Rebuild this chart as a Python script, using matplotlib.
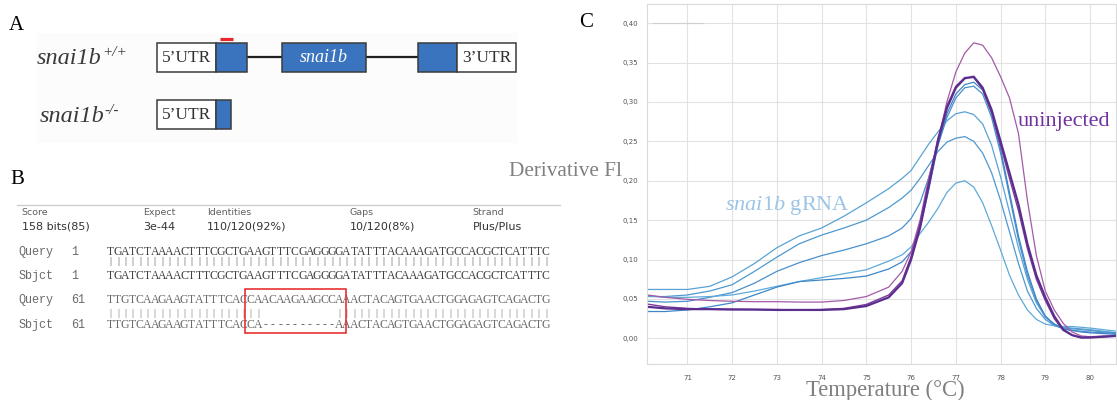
import numpy as np
import matplotlib.pyplot as plt
from matplotlib.patches import Rectangle

plt.rcParams['mathtext.fontset'] = 'custom'
plt.rcParams['mathtext.rm'] = 'Liberation Serif'
plt.rcParams['mathtext.it'] = 'Liberation Serif:italic'
SERIF = 'Liberation Serif'

#%% Data - panel A (gene schematic, segment spans)
gene_wt = [('utr', 157, 216, '5’UTR'), ('exon', 216, 247, ''), ('intron', 247, 282, ''),
           ('exon', 282, 366, 'snai1b'), ('intron', 366, 418, ''), ('exon', 418, 457, ''),
           ('utr', 457, 516, '3’UTR')]
gene_ko = [('utr', 157, 216, '5’UTR'), ('exon', 216, 231, '')]
gene_names = ['snai1b', 'snai1b']
gene_sups = ['+/+', '-/-']

#%% Data - panel B (BLAST)
stat_names = ['Score', 'Expect', 'Identities', 'Gaps', 'Strand']
stat_values = ['158 bits(85)', '3e-44', '110/120(92%)', '10/120(8%)', 'Plus/Plus']
query_1 = 'TGATCTAAAACTTTCGCTGAAGTTTCGAGGGGATATTTACAAAGATGCCACGCTCATTTC'
sbjct_1 = 'TGATCTAAAACTTTCGCTGAAGTTTCGAGGGGATATTTACAAAGATGCCACGCTCATTTC'
query_61 = 'TTGTCAAGAAGTATTTCACCAACAAGAAGCCAAACTACAGTGAACTGGAGAGTCAGACTG'
sbjct_61 = 'TTGTCAAGAAGTATTTCACCA----------AAACTACAGTGAACTGGAGAGTCAGACTG'

#%% Data - panel C (melt curves)
temp = [70.1, 70.5, 71.0, 71.5, 72.0, 72.5, 73.0, 73.5, 74.0, 74.5, 75.0, 75.5, 75.8, 76.0,
        76.2, 76.4, 76.6, 76.8, 77.0, 77.2, 77.4, 77.6, 77.8, 78.0, 78.2, 78.4, 78.6, 78.8,
        79.0, 79.2, 79.4, 79.6, 79.8, 80.0, 80.3, 80.58]
blue_a = [0.062, 0.062, 0.062, 0.066, 0.078, 0.095, 0.115, 0.130, 0.140, 0.155, 0.172, 0.190, 0.203, 0.213,
          0.230, 0.247, 0.262, 0.276, 0.285, 0.2875, 0.284, 0.272, 0.245, 0.205, 0.160, 0.115, 0.075, 0.045,
          0.027, 0.018, 0.014, 0.013, 0.012, 0.011, 0.009, 0.007]
blue_b = [0.053, 0.053, 0.055, 0.060, 0.068, 0.085, 0.103, 0.120, 0.131, 0.140, 0.150, 0.166, 0.178, 0.188,
          0.203, 0.220, 0.237, 0.249, 0.254, 0.256, 0.250, 0.235, 0.210, 0.175, 0.135, 0.095, 0.060, 0.038,
          0.024, 0.016, 0.013, 0.012, 0.011, 0.010, 0.008, 0.007]
blue_c = [0.047, 0.046, 0.047, 0.052, 0.058, 0.070, 0.085, 0.096, 0.105, 0.112, 0.120, 0.130, 0.140, 0.152,
          0.172, 0.205, 0.245, 0.280, 0.305, 0.318, 0.320, 0.310, 0.280, 0.235, 0.180, 0.125, 0.080, 0.048,
          0.028, 0.017, 0.012, 0.010, 0.009, 0.008, 0.007, 0.006]
blue_d = [0.054, 0.052, 0.052, 0.053, 0.055, 0.060, 0.066, 0.072, 0.077, 0.082, 0.087, 0.098, 0.106, 0.116,
          0.133, 0.148, 0.165, 0.185, 0.197, 0.200, 0.192, 0.172, 0.143, 0.112, 0.080, 0.055, 0.036, 0.024,
          0.018, 0.016, 0.015, 0.015, 0.014, 0.013, 0.011, 0.009]
blue_e = [0.034, 0.034, 0.036, 0.040, 0.045, 0.055, 0.065, 0.072, 0.074, 0.076, 0.079, 0.088, 0.097, 0.110,
          0.140, 0.190, 0.245, 0.285, 0.310, 0.322, 0.325, 0.315, 0.285, 0.240, 0.185, 0.130, 0.085, 0.050,
          0.028, 0.018, 0.012, 0.010, 0.008, 0.007, 0.006, 0.005]
purple_1 = [0.055, 0.052, 0.0495, 0.048, 0.047, 0.0465, 0.0465, 0.046, 0.046, 0.048, 0.053, 0.065, 0.085, 0.110,
            0.150, 0.205, 0.250, 0.300, 0.338, 0.362, 0.375, 0.372, 0.356, 0.332, 0.305, 0.260, 0.175, 0.105,
            0.060, 0.036, 0.019, 0.008, 0.003, 0.002, 0.003, 0.003]
purple_2 = [0.040, 0.038, 0.037, 0.037, 0.0365, 0.0365, 0.036, 0.036, 0.036, 0.037, 0.041, 0.052, 0.070, 0.100,
            0.140, 0.195, 0.250, 0.292, 0.318, 0.330, 0.332, 0.318, 0.290, 0.250, 0.210, 0.170, 0.120, 0.080,
            0.052, 0.028, 0.011, 0.004, 0.001, 0.001, 0.002, 0.003]
purple_3 = [0.0435, 0.040, 0.038, 0.037, 0.037, 0.0365, 0.0365, 0.036, 0.0365, 0.038, 0.043, 0.055, 0.073, 0.104,
            0.146, 0.200, 0.254, 0.295, 0.320, 0.331, 0.331, 0.316, 0.286, 0.245, 0.203, 0.162, 0.114, 0.075,
            0.048, 0.025, 0.010, 0.004, 0.001, 0.001, 0.002, 0.003]
ytick_vals = [0.0, 0.05, 0.10, 0.15, 0.20, 0.25, 0.30, 0.35, 0.40]
ytick_text = ['0,00', '0,05', '0,10', '0,15', '0,20', '0,25', '0,30', '0,35', '0,40']
xtick_vals = [71, 72, 73, 74, 75, 76, 77, 78, 79, 80]

#%% Figure
W, H = 1117, 400
fig = plt.figure(figsize=(W / 100, H / 100), dpi=100)
ax0 = fig.add_axes([0, 0, 1, 1])
ax0.set_xlim(0, W)
ax0.set_ylim(H, 0)
ax0.axis('off')

# panel letters
for lab, (lx, ly) in zip('ABC', [(16, 26), (17, 179), (586, 22.5)]):
    ax0.text(lx, ly, lab, fontsize=15, family=SERIF, ha='center', va='center', color='black')

#%% Panel A
ax0.add_patch(Rectangle((36, 33), 481, 110, facecolor='#fcfcfc', edgecolor='none', zorder=0))
renderer = fig.canvas.get_renderer()
for row, (gene, yc, ly) in enumerate([(gene_wt, 57.3, 58.5), (gene_ko, 114.7, 116.5)]):
    for kind, a, b, txt in gene:
        if kind == 'intron':
            ax0.plot([a, b], [yc, yc], color='#202020', lw=1.6, solid_capstyle='butt', zorder=1)
            continue
        fc = 'white' if kind == 'utr' else '#3b74be'
        ax0.add_patch(Rectangle((a, yc - 14.3), b - a, 28.6, facecolor=fc, edgecolor='#3c3c3c',
                                lw=1.1, zorder=2))
        if txt:
            ax0.text((a + b) / 2, yc + 0.5, txt, ha='center', va='center', family=SERIF,
                     fontsize=12.5 if kind == 'utr' else 13, style='normal' if kind == 'utr' else 'italic',
                     color='#303030' if kind == 'utr' else 'white', zorder=3)
    t = ax0.text(37 + 2.5 * row, ly, gene_names[row], ha='left', va='center', family=SERIF,
                 style='italic', fontsize=17.5, color='#3a3a3a')
    bb = t.get_window_extent(renderer)
    ax0.text(bb.x1 + 0.5, ly - 6.5, gene_sups[row], ha='left', va='center', family=SERIF,
             style='italic', fontsize=11, color='#3a3a3a')
# gRNA target mark
ax0.plot([220, 233], [38.6, 38.6], color='#e8262d', lw=2.3, solid_capstyle='butt')

#%% Panel B
ax0.plot([17, 560], [205, 205], color='#cfcfcf', lw=1)
for name, val, sx in zip(stat_names, stat_values, [21.7, 142.7, 206.7, 350, 472.7]):
    ax0.text(sx, 212.7, name, fontsize=6.8, color='#606060', ha='left', va='center')
    ax0.text(sx, 226.7, val, fontsize=8, color='#333333', ha='left', va='center')

x0, cw = 106.7, 7.38
rows = [('Query', '1', query_1, 252.3, '#404040'), ('Sbjct', '1', sbjct_1, 276, '#404040'),
        ('Query', '61', query_61, 300, '#6a6a6a'), ('Sbjct', '61', sbjct_61, 325.3, '#6a6a6a')]
for lab, num, seq, y, col in rows:
    ax0.text(18.3, y, lab, family='Liberation Mono', fontsize=8.5, color='#6a6a6a', ha='left', va='center')
    ax0.text(71, y, num, family='Liberation Mono', fontsize=8.5, color='#6a6a6a', ha='left', va='center')
    for i, ch in enumerate(seq):
        ax0.text(x0 + (i + 0.5) * cw, y, ch, family=SERIF, fontsize=8.5, color=col,
                 ha='center', va='center')
for q, s, y, col in [(query_1, sbjct_1, 262, '#404040'), (query_61, sbjct_61, 313.5, '#6a6a6a')]:
    for i, (a, b) in enumerate(zip(q, s)):
        if a == b:
            ax0.text(x0 + (i + 0.5) * cw, y, '|', family=SERIF, fontsize=7.5, color=col,
                     ha='center', va='center')
ax0.add_patch(Rectangle((x0 + 18.74 * cw, 289.3), 13.69 * cw, 43.4, facecolor='none',
                        edgecolor='#e42020', lw=1.1, zorder=4))

#%% Panel C
ax0.text(509, 172, 'Derivative Fl', family=SERIF, fontsize=15.3, color='#808080',
         ha='left', va='center')
ax0.text(885, 390, 'Temperature (°C)', family=SERIF, fontsize=16.3, color='#7f7f7f',
         ha='center', va='center')

axC = fig.add_axes([646.7 / W, (H - 364) / H, (1116 - 646.7) / W, (364 - 4.3) / H])
axC.set_xlim(70.09, 80.58)
axC.set_ylim(-0.0326, 0.4239)
axC.set_xticks(xtick_vals)
axC.set_yticks(ytick_vals)
axC.set_yticklabels(ytick_text)
axC.tick_params(length=0, labelsize=5, labelcolor='#555555', pad=6)
axC.tick_params(axis='x', pad=8)
axC.grid(True, color='#e2e2e2', lw=0.8)
axC.set_axisbelow(True)
for sp in axC.spines.values():
    sp.set_color('#dadada')
    sp.set_linewidth(0.8)

axC.plot([70.23, 71.35], [0.40, 0.40], color='#d0d0d0', lw=0.8)
for ys, c, lw in [(blue_a, '#5aa2d4', 0.9), (blue_b, '#4f98cf', 0.9), (blue_c, '#4a90cc', 0.9),
                  (blue_d, '#5eaad8', 0.9), (blue_e, '#3f86c8', 0.9),
                  (purple_1, '#a35aa8', 0.9), (purple_3, '#7d3a98', 1.0), (purple_2, '#5a2d8e', 1.6)]:
    axC.plot(temp, ys, color=c, lw=lw)

axC.text(78.39, 0.275, 'uninjected', family=SERIF, fontsize=16, color='#7030a0', ha='left', va='center')
axC.text(71.83, 0.169, r'$\mathit{snai1b}$ gRNA', family=SERIF, fontsize=16, color='#9dc3e6',
         ha='left', va='center')

fig.savefig('out.png', dpi=100)
